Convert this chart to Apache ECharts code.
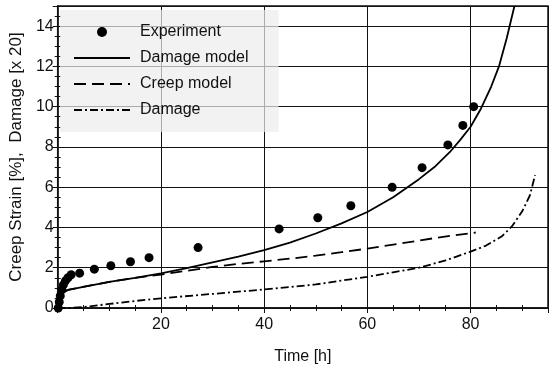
<!DOCTYPE html>
<html>
<head>
<meta charset="utf-8">
<script src="https://cdn.jsdelivr.net/npm/echarts@6/dist/echarts.min.js"></script>
<style>
  html, body { margin: 0; padding: 0; background: #fff; }
  #main { width: 551px; height: 372px; }
</style>
</head>
<body>
<div id="main"></div>
<script>
// 实验点
var expTime = [0.1, 0.3, 0.5, 0.8, 1.1, 1.5, 2.0, 2.6, 4.25, 7.1, 10.3, 14.1, 17.7, 27.2, 42.9, 50.4, 56.8, 64.8, 70.6, 75.6, 78.5, 80.6];
var expStrain = [0, 0.3, 0.6, 0.9, 1.15, 1.35, 1.5, 1.65, 1.73, 1.93, 2.1, 2.3, 2.5, 3.0, 3.93, 4.48, 5.08, 6.0, 6.97, 8.1, 9.07, 10.0];

// Damage model (实线)
var dmTime = [0, 0.3, 0.7, 1.2, 2, 4, 7, 10, 15, 20, 25, 30, 35, 40, 45, 50, 55, 60, 65, 70, 73, 76, 78, 80, 82, 84, 85.5, 87, 88.5];
var dmStrain = [0, 0.4, 0.65, 0.8, 0.9, 1.0, 1.15, 1.3, 1.5, 1.72, 1.98, 2.27, 2.55, 2.87, 3.25, 3.7, 4.2, 4.77, 5.5, 6.4, 7.0, 7.75, 8.35, 9.0, 9.9, 11.0, 12.0, 13.4, 15];

// Creep model (虚线)
var cmTime = [0, 0.3, 0.7, 1.2, 2, 4, 7, 10, 15, 20, 25, 30, 35, 40, 45, 50, 55, 60, 65, 70, 75, 81];
var cmStrain = [0, 0.4, 0.65, 0.8, 0.9, 1.0, 1.15, 1.3, 1.5, 1.66, 1.85, 2.04, 2.19, 2.32, 2.45, 2.6, 2.77, 2.95, 3.15, 3.35, 3.55, 3.75];

// Damage (点划线)
var dgTime = [0, 2, 5, 10, 15, 20, 30, 40, 50, 60, 70, 75, 80, 83, 86, 88, 90, 91.5, 92.5];
var dgValue = [0, 0, 0.05, 0.2, 0.35, 0.48, 0.7, 0.92, 1.17, 1.55, 2.0, 2.35, 2.8, 3.1, 3.55, 4.05, 4.8, 5.6, 6.6];

var yTicks = [0, 2, 4, 6, 8, 10, 12, 14];
var xTicks = [20, 40, 60, 80];

function zip(a, b) {
  var out = [];
  for (var i = 0; i < a.length; i++) out.push([a[i], b[i]]);
  return out;
}

var font = "'Liberation Sans', Arial, sans-serif";

var option = {
  animation: false,
  backgroundColor: '#fff',
  grid: {
    left: 51, right: 2, top: 6, bottom: 64,
    show: true, borderColor: '#111', borderWidth: 1.5, backgroundColor: 'transparent'
  },
  legend: {
    left: 60, top: 10,
    orient: 'vertical',
    padding: [14, 30, 14, 13],
    itemGap: 10,
    itemWidth: 56,
    itemHeight: 10,
    backgroundColor: 'rgba(236,236,236,0.7)',
    textStyle: { fontFamily: font, fontSize: 16, color: '#111', padding: [0, 0, 0, 5] },
    data: [
      { name: 'Experiment' },
      { name: 'Damage model', itemStyle: { opacity: 0 } },
      { name: 'Creep model', itemStyle: { opacity: 0 } },
      { name: 'Damage', itemStyle: { opacity: 0 } }
    ]
  },
  xAxis: [{
    type: 'value', min: 0, max: 95, interval: 20,
    name: 'Time [h]', nameLocation: 'middle', nameGap: 41,
    nameTextStyle: { fontFamily: font, fontSize: 16, color: '#111' },
    axisLine: { show: true, onZero: false, lineStyle: { color: '#111', width: 1.5 } },
    axisTick: { show: true, inside: true, length: 5, lineStyle: { color: '#111' } },
    minorTick: { show: true, splitNumber: 4, length: 3, lineStyle: { color: '#111' } },
    axisLabel: {
      fontFamily: font, fontSize: 16, color: '#111', margin: 9,
      formatter: function (v) { return xTicks.indexOf(v) >= 0 ? String(v) : ''; }
    },
    splitLine: { show: true, lineStyle: { color: '#111', width: 1 } }
  }, {
    type: 'value', min: 0, max: 95, interval: 20, position: 'top',
    axisLine: { show: false },
    axisTick: { show: true, inside: true, length: 5, lineStyle: { color: '#111' } },
    minorTick: { show: true, splitNumber: 4, length: 3, lineStyle: { color: '#111' } },
    axisLabel: { show: false },
    splitLine: { show: false }
  }],
  yAxis: [{
    type: 'value', min: 0, max: 15, interval: 2,
    name: 'Creep Strain [%],  Damage [x 20]', nameLocation: 'middle', nameGap: 28,
    nameTextStyle: { fontFamily: font, fontSize: 17, color: '#111' },
    axisLine: { show: true, onZero: false, lineStyle: { color: '#111', width: 1.5 } },
    axisTick: { show: true, inside: true, length: 5, lineStyle: { color: '#111' } },
    minorTick: { show: true, splitNumber: 4, length: 3, lineStyle: { color: '#111' } },
    axisLabel: {
      fontFamily: font, fontSize: 16, color: '#111', margin: 4,
      formatter: function (v) { return yTicks.indexOf(v) >= 0 ? String(v) : ''; }
    },
    splitLine: { show: true, lineStyle: { color: '#111', width: 1 } }
  }, {
    type: 'value', min: 0, max: 15, interval: 2, position: 'right',
    axisLine: { show: false },
    axisTick: { show: true, inside: true, length: 5, lineStyle: { color: '#111' } },
    minorTick: { show: true, splitNumber: 4, length: 3, lineStyle: { color: '#111' } },
    axisLabel: { show: false },
    splitLine: { show: false }
  }],
  series: [{
    name: 'Experiment', type: 'scatter',
    symbol: 'circle', symbolSize: 9,
    itemStyle: { color: '#000', opacity: 1 },
    data: zip(expTime, expStrain), z: 5
  }, {
    name: 'Damage model', type: 'line',
    symbol: 'none', smooth: false,
    lineStyle: { color: '#000', width: 1.8, type: 'solid' },
    itemStyle: { color: '#000' },
    data: zip(dmTime, dmStrain), z: 4
  }, {
    name: 'Creep model', type: 'line',
    symbol: 'none', smooth: false,
    lineStyle: { color: '#000', width: 1.8, type: [12, 6] },
    itemStyle: { color: '#000' },
    data: zip(cmTime, cmStrain), z: 4
  }, {
    name: 'Damage', type: 'line',
    symbol: 'none', smooth: false,
    lineStyle: { color: '#000', width: 1.8, type: [8, 3, 2, 3] },
    itemStyle: { color: '#000' },
    data: zip(dgTime, dgValue), z: 4
  }]
};

var myChart = echarts.init(document.getElementById('main'));
myChart.setOption(option);
</script>
</body>
</html>
